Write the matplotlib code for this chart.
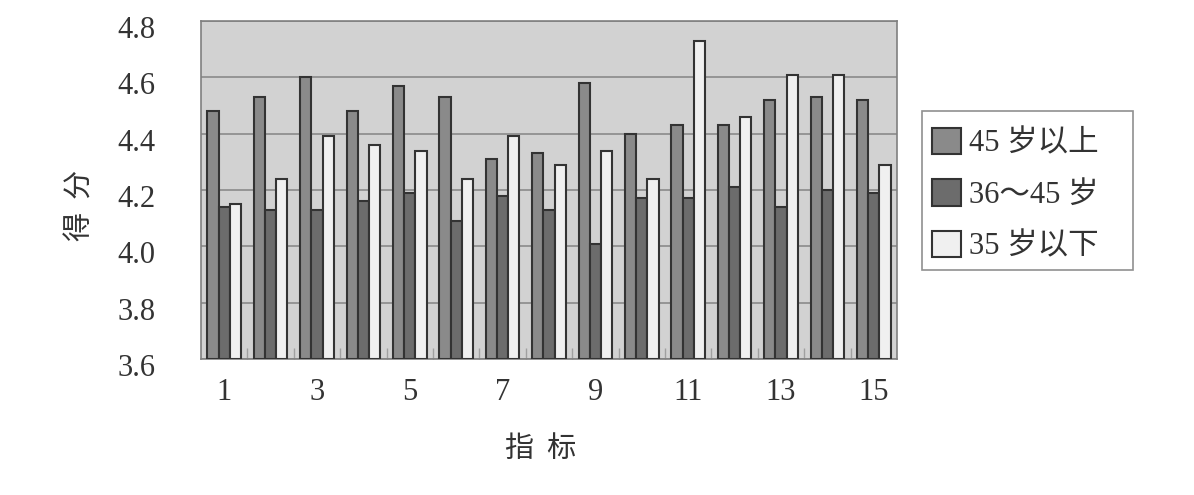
import numpy as np
import matplotlib
matplotlib.use("Agg")
import matplotlib.pyplot as plt
import matplotlib.transforms as mtransforms
from matplotlib.patches import Rectangle, Patch

# data
categories = np.arange(1, 16)
over_45 = [4.48, 4.53, 4.60, 4.48, 4.57, 4.53, 4.31, 4.33, 4.58, 4.40, 4.43, 4.43, 4.52, 4.53, 4.52]
age_36_45 = [4.14, 4.13, 4.13, 4.16, 4.19, 4.09, 4.18, 4.13, 4.01, 4.17, 4.17, 4.21, 4.14, 4.20, 4.19]
under_35 = [4.15, 4.24, 4.39, 4.36, 4.34, 4.24, 4.39, 4.29, 4.34, 4.24, 4.73, 4.46, 4.61, 4.61, 4.29]
series_names = ["45 岁以上", "36～45 岁", "35 岁以下"]
tick_labels = [str(c) if c % 2 == 1 else "" for c in categories]

FONT = ["Liberation Serif", "Noto Sans CJK SC", "DejaVu Sans"]
plt.rcParams['font.family'] = FONT
FS = 22

colors = ["#8a8a8a", "#6c6c6c", "#f0f0f0"]
edge = "#333333"

fig = plt.figure(figsize=(11.94, 4.95), dpi=100)
ax = fig.add_axes([201 / 1194, 1 - 359 / 495, 696 / 1194, 338 / 495])
ax.set_facecolor("#d2d2d2")

w = 0.24
for k, vals in enumerate([over_45, age_36_45, under_35]):
    ax.bar(categories + (k - 1) * w, np.array(vals) - 3.6, width=w, bottom=3.6,
           color=colors[k], edgecolor=edge, linewidth=1.5, zorder=3)

ax.set_xlim(0.5, 15.5)
ax.set_ylim(3.6, 4.8)
yt = np.arange(3.6, 4.81, 0.2)
ax.set_yticks(yt)
ax.set_yticklabels([f"{v:.1f}" for v in yt], fontsize=FS, color="#333333")
ax.yaxis.grid(True, color="#8a8a8a", linewidth=1.2, zorder=1)
ax.tick_params(axis='y', length=0, pad=33)
shift = mtransforms.ScaledTranslation(0, -6 / 100, fig.dpi_scale_trans)
for lab in ax.get_yticklabels():
    lab.set_transform(lab.get_transform() + shift)

ax.set_xticks(categories)
ax.set_xticklabels(tick_labels, fontsize=FS, color="#333333")
ax.tick_params(axis='x', which='major', length=0, pad=14)
ax.set_xticks(np.arange(1.5, 15, 1), minor=True)
ax.tick_params(axis='x', which='minor', direction='in', length=8, width=1, color="#a0a0a0")

for s in ax.spines.values():
    s.set_color("#808080")
    s.set_linewidth(1.2)

fig.text(541 / 1194, 1 - 449 / 495, "指  标", fontsize=21, ha='center', va='center',
         color="#333333", family=["Noto Sans CJK SC"])
fig.text(81 / 1194, 1 - 205 / 495, "得  分", fontsize=21, ha='center', va='center',
         rotation=90, color="#333333", family=["Noto Sans CJK SC"])

# legend box
fig.patches.append(Rectangle((922 / 1194, 1 - 270 / 495), 211 / 1194, 159 / 495,
                             transform=fig.transFigure, facecolor="white",
                             edgecolor="#909090", linewidth=1.2))
handles = [Patch(facecolor=colors[k], edgecolor=edge, linewidth=1.5) for k in range(3)]
fig.legend(handles, series_names, loc='upper left', bbox_to_anchor=(932 / 1194, 1 - 128 / 495),
           frameon=False, handlelength=0.95, handleheight=0.95,
           handletextpad=0.25, labelspacing=0.68, borderaxespad=0, borderpad=0,
           labelcolor="#333333", prop={'family': FONT, 'size': FS})

fig.savefig("out.png", dpi=100)
